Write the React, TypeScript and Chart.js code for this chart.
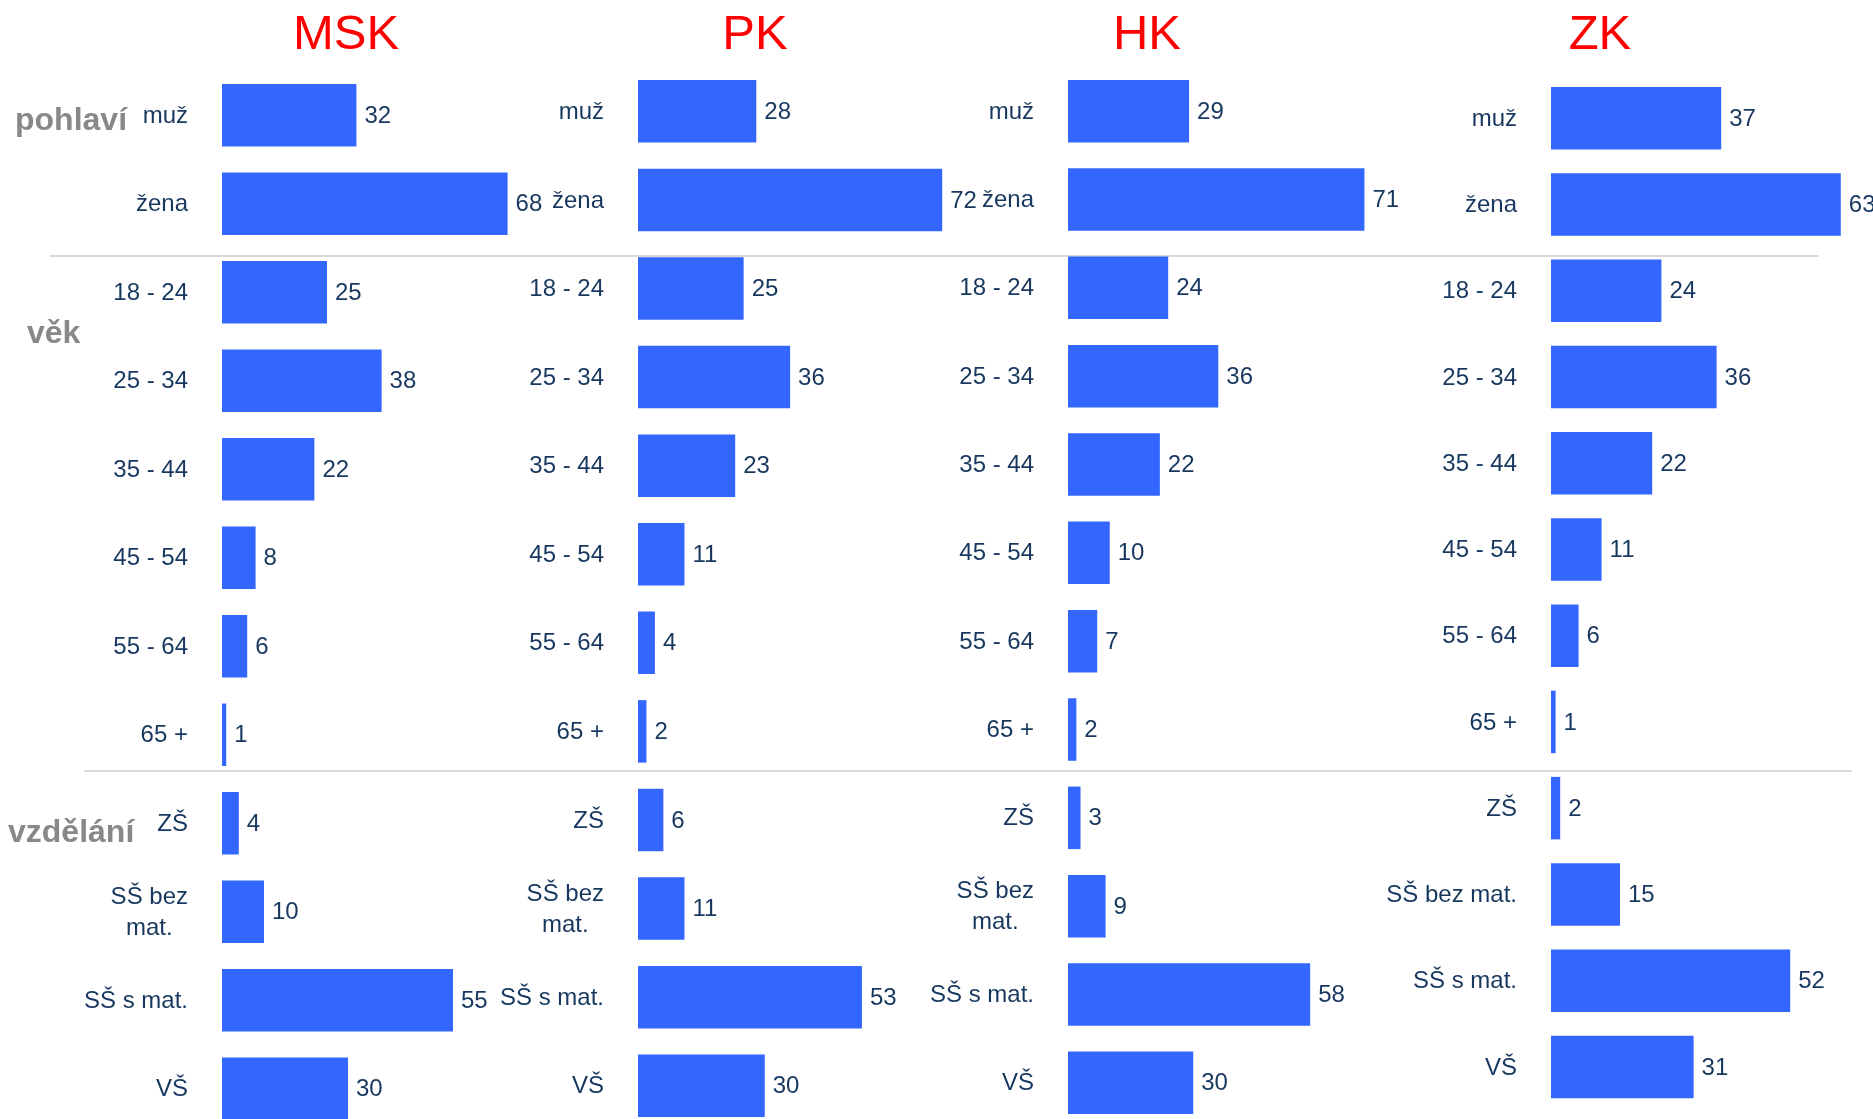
import React, { useEffect, useRef } from 'react';
import { Chart, registerables } from 'chart.js';

Chart.register(...registerables);

// ---- data ----
const categories = ['muž', 'žena', '18 - 24', '25 - 34', '35 - 44', '45 - 54', '55 - 64', '65 +', 'ZŠ', 'SŠ bez\nmat.', 'SŠ s mat.', 'VŠ'];
const categoriesZK = ['muž', 'žena', '18 - 24', '25 - 34', '35 - 44', '45 - 54', '55 - 64', '65 +', 'ZŠ', 'SŠ bez mat.', 'SŠ s mat.', 'VŠ'];
const regionNames = ['MSK', 'PK', 'HK', 'ZK'];
const valuesMSK = [32, 68, 25, 38, 22, 8, 6, 1, 4, 10, 55, 30];
const valuesPK = [28, 72, 25, 36, 23, 11, 4, 2, 6, 11, 53, 30];
const valuesHK = [29, 71, 24, 36, 22, 10, 7, 2, 3, 9, 58, 30];
const valuesZK = [37, 63, 24, 36, 22, 11, 6, 1, 2, 15, 52, 31];
const groupLabels = ['pohlaví', 'věk', 'vzdělání'];

// ---- styles ----
const BLUE = '#3366ff';
const NAVY = '#17375e';
const FONT = '"Liberation Sans", Arial, sans-serif';

type PanelCfg = {
  name: string;
  labels: string[];
  values: number[];
  left: number;
  top: number;
  yw: number;
  chartW: number;
  height: number;
  xMax: number;
  titleX: number;
};

const panels: PanelCfg[] = [
  { name: regionNames[0], labels: categories, values: valuesMSK, left: 0, top: 71, yw: 222, chartW: 336, height: 1062, xMax: 80, titleX: 346 },
  { name: regionNames[1], labels: categories, values: valuesPK, left: 400, top: 67, yw: 238, chartW: 338, height: 1063, xMax: 80, titleX: 755 },
  { name: regionNames[2], labels: categories, values: valuesHK, left: 880, top: 67, yw: 188, chartW: 334, height: 1060, xMax: 80, titleX: 1147 },
  { name: regionNames[3], labels: categoriesZK, values: valuesZK, left: 1320, top: 75, yw: 231, chartW: 322, height: 1035, xMax: 70, titleX: 1600 },
];

const labelPlugin = {
  id: 'rowLabels',
  afterDatasetsDraw(chart: any) {
    const ctx = chart.ctx as CanvasRenderingContext2D;
    const ys = chart.scales.y;
    const area = chart.chartArea;
    ctx.save();
    ctx.font = `24px ${FONT}`;
    ctx.fillStyle = NAVY;
    ctx.textBaseline = 'middle';
    const labels: string[] = chart.data.labels;
    labels.forEach((lab, i) => {
      const y = ys.getPixelForValue(i);
      const lines = String(lab).split('\n');
      const right = area.left - 34;
      const maxW = Math.max(...lines.map((l) => ctx.measureText(l).width));
      lines.forEach((ln, k) => {
        const ly = y + 1 + (k - (lines.length - 1) / 2) * 31;
        ctx.textAlign = 'center';
        ctx.fillText(ln, right - maxW / 2, ly);
      });
    });
    const meta = chart.getDatasetMeta(0);
    meta.data.forEach((bar: any, i: number) => {
      const v = chart.data.datasets[0].data[i];
      ctx.textAlign = 'left';
      ctx.fillText(String(v), bar.x + 8, bar.y + 1);
    });
    ctx.restore();
  },
};

function Panel({ cfg }: { cfg: PanelCfg }) {
  const ref = useRef<HTMLCanvasElement | null>(null);
  useEffect(() => {
    if (!ref.current) return;
    const pitch = cfg.height / cfg.labels.length;
    const chart = new Chart(ref.current, {
      type: 'bar',
      data: {
        labels: cfg.labels,
        datasets: [
          {
            data: cfg.values,
            backgroundColor: BLUE,
            borderWidth: 0,
            barPercentage: 1,
            categoryPercentage: 62.5 / pitch,
          },
        ],
      },
      options: {
        indexAxis: 'y',
        responsive: false,
        maintainAspectRatio: false,
        animation: false,
        layout: { padding: { left: cfg.yw, right: 0, top: 0, bottom: 0 } },
        plugins: {
          legend: { display: false },
          tooltip: { enabled: false },
          title: { display: false },
        },
        scales: {
          x: { display: false, min: 0, max: cfg.xMax },
          y: { display: false },
        },
      },
      plugins: [labelPlugin],
    } as any);
    return () => chart.destroy();
  }, [cfg]);
  return (
    <canvas
      ref={ref}
      width={cfg.yw + cfg.chartW}
      height={cfg.height}
      style={{ position: 'absolute', left: cfg.left, top: cfg.top, width: cfg.yw + cfg.chartW, height: cfg.height }}
    />
  );
}

const groupStyle: React.CSSProperties = {
  position: 'absolute',
  fontFamily: FONT,
  fontWeight: 'bold',
  fontSize: 32,
  lineHeight: '32px',
  color: '#888888',
  whiteSpace: 'nowrap',
};

export default function App() {
  return (
    <div style={{ position: 'absolute', left: 0, top: 0, width: 1873, height: 1119, overflow: 'hidden', background: '#ffffff' }}>
      <div style={{ position: 'absolute', left: 50, top: 255, width: 1769, height: 2, background: '#d9d9d9' }} />
      <div style={{ position: 'absolute', left: 84, top: 770, width: 1768, height: 2, background: '#d9d9d9' }} />
      {panels.map((p) => (
        <Panel key={p.name} cfg={p} />
      ))}
      {panels.map((p) => (
        <div
          key={'t' + p.name}
          style={{
            position: 'absolute',
            left: p.titleX - 150,
            width: 300,
            top: 8,
            textAlign: 'center',
            fontFamily: FONT,
            fontSize: 49,
            lineHeight: '49px',
            color: '#ff0000',
          }}
        >
          {p.name}
        </div>
      ))}
      <div style={{ ...groupStyle, left: 15, top: 103 }}>{groupLabels[0]}</div>
      <div style={{ ...groupStyle, left: 27, top: 316 }}>{groupLabels[1]}</div>
      <div style={{ ...groupStyle, left: 8, top: 815 }}>{groupLabels[2]}</div>
    </div>
  );
}
